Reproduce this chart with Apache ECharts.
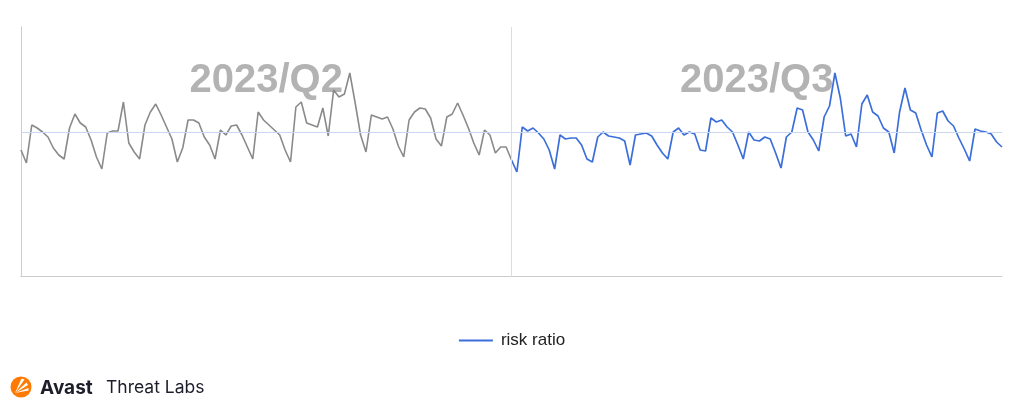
<!DOCTYPE html>
<html><head><meta charset="utf-8">
<script src="https://cdn.jsdelivr.net/npm/echarts@6/dist/echarts.min.js"></script>
<style>html,body{margin:0;padding:0;background:#fff}#c{width:1024px;height:404px}</style>
</head><body><div id="c"></div>
<script>
// Quarter labels (watermarks)
const quarterLabels = ['2023/Q2', '2023/Q3'];
// Daily risk ratio, 2023-04-01 .. 2023-06-30 (91 days)
const q2Values = [
  1.26,1.13,1.51,1.48,1.44,1.39,1.28,1.21,1.17,1.48,
  1.62,1.53,1.49,1.36,1.19,1.07,1.43,1.45,1.45,1.74,
  1.33,1.24,1.17,1.51,1.64,1.72,1.61,1.49,1.37,1.14,
  1.28,1.56,1.56,1.53,1.39,1.31,1.17,1.46,1.41,1.50,
  1.51,1.41,1.29,1.17,1.64,1.56,1.51,1.46,1.41,1.26,
  1.14,1.69,1.74,1.53,1.51,1.49,1.68,1.40,1.86,1.79,
  1.82,2.03,1.73,1.41,1.24,1.61,1.59,1.57,1.59,1.47,
  1.30,1.19,1.56,1.64,1.68,1.67,1.58,1.37,1.30,1.59,
  1.62,1.73,1.61,1.48,1.33,1.21,1.46,1.41,1.23,1.29,
  1.29
];
// Daily risk ratio, 2023-07-01 .. 2023-09-30 (92 days)
const q3Values = [
  1.16,1.04,1.49,1.45,1.48,1.43,1.37,1.26,1.07,1.41,
  1.37,1.38,1.38,1.31,1.17,1.14,1.39,1.44,1.40,1.39,
  1.38,1.35,1.11,1.41,1.42,1.43,1.40,1.31,1.23,1.17,
  1.44,1.48,1.41,1.44,1.42,1.26,1.25,1.58,1.54,1.56,
  1.49,1.44,1.31,1.17,1.44,1.36,1.35,1.39,1.37,1.23,
  1.08,1.39,1.44,1.68,1.66,1.44,1.36,1.25,1.59,1.70,
  2.03,1.78,1.40,1.42,1.29,1.72,1.81,1.64,1.60,1.48,
  1.44,1.23,1.64,1.88,1.66,1.63,1.46,1.31,1.19,1.63,
  1.65,1.55,1.50,1.38,1.27,1.15,1.47,1.45,1.44,1.42,
  1.34,1.29
];
const averageRisk = 1.44;

// Category labels: one per day
const days = [];
(function(){
  const d = new Date(Date.UTC(2023, 3, 1));
  const total = q2Values.length + q3Values.length;
  for (let i = 0; i < total; i++) {
    days.push(d.toISOString().slice(0, 10));
    d.setUTCDate(d.getUTCDate() + 1);
  }
})();
const splitIdx = q2Values.length;
const grayData = q2Values.concat([q3Values[0]]).concat(new Array(q3Values.length - 1).fill(null));
const blueData = new Array(splitIdx).fill(null).concat(q3Values);

const chart = echarts.init(document.getElementById('c'), null, {renderer: 'canvas'});
const wmLabel = {
  show: true, position: 'insideTop', distance: 34,
  fontSize: 40, fontWeight: 'bold', color: '#b3b3b3',
  fontFamily: 'Liberation Sans, Arial, sans-serif'
};
chart.setOption({
  animation: false,
  grid: {left: 21, right: 22, top: 27, bottom: 128},
  legend: {
    data: ['risk ratio'], bottom: 50, left: 'center',
    icon: 'rect', itemWidth: 34, itemHeight: 2, itemGap: 10,
    textStyle: {fontSize: 17, color: '#222', fontFamily: 'Liberation Sans, Arial, sans-serif', padding: [0,0,0,3]}
  },
  xAxis: {
    type: 'category', data: days, boundaryGap: false,
    axisLine: {show: true, lineStyle: {color: '#cccccc', width: 1}},
    axisTick: {show: false}, axisLabel: {show: false}, splitLine: {show: false}
  },
  yAxis: {
    type: 'value', min: 0, max: 2.49,
    axisLine: {show: true, lineStyle: {color: '#cccccc', width: 1}},
    axisTick: {show: false}, axisLabel: {show: false}, splitLine: {show: false}
  },
  series: [
    {
      name: 'Q2', type: 'line', data: grayData, showSymbol: false, connectNulls: false,
      lineStyle: {color: '#8a8a8a', width: 1.6}, itemStyle: {color: '#8a8a8a'}, z: 3,
      markArea: {
        silent: true, itemStyle: {color: 'rgba(0,0,0,0)'}, label: wmLabel,
        data: [[{name: quarterLabels[0], xAxis: days[0]}, {xAxis: days[splitIdx]}]]
      },
      markLine: {
        silent: true, symbol: 'none', label: {show: false},
        data: [
          {yAxis: averageRisk, lineStyle: {color: '#cad7f2', width: 1, type: 'solid'}},
          {xAxis: days[splitIdx], lineStyle: {color: '#dddddd', width: 1, type: 'solid'}}
        ]
      }
    },
    {
      name: 'risk ratio', type: 'line', data: blueData, showSymbol: false,
      lineStyle: {color: '#3c6fd9', width: 1.7}, itemStyle: {color: '#3c6fd9'}, z: 3,
      markArea: {
        silent: true, itemStyle: {color: 'rgba(0,0,0,0)'}, label: wmLabel,
        data: [[{name: quarterLabels[1], xAxis: days[splitIdx]}, {xAxis: days[days.length - 1]}]]
      }
    }
  ],
  graphic: [
    {type: 'circle', shape: {cx: 21, cy: 387, r: 10.5}, style: {fill: '#ff7a00'}},
    {type: 'polygon', shape: {points: [[15,393],[21.5,378.5],[24.5,379.5]]}, style: {fill: '#fff'}},
    {type: 'polygon', shape: {points: [[15,393],[26.5,382.5],[28,385]]}, style: {fill: '#fff'}},
    {type: 'polygon', shape: {points: [[15,393],[28.5,388],[28.5,390.5]]}, style: {fill: '#fff'}},
    {type: 'text', left: 40, top: 379, style: {text: 'Avast', fontSize: 19, fontWeight: 'bold', fill: '#1d1d2b', fontFamily: 'Inter, Liberation Sans, sans-serif'}},
    {type: 'text', left: 106, top: 379, style: {text: 'Threat Labs', fontSize: 17.5, fontWeight: 'normal', fill: '#1d1d2b', fontFamily: 'Inter, Liberation Sans, sans-serif'}}
  ]
});
</script>
</body></html>
